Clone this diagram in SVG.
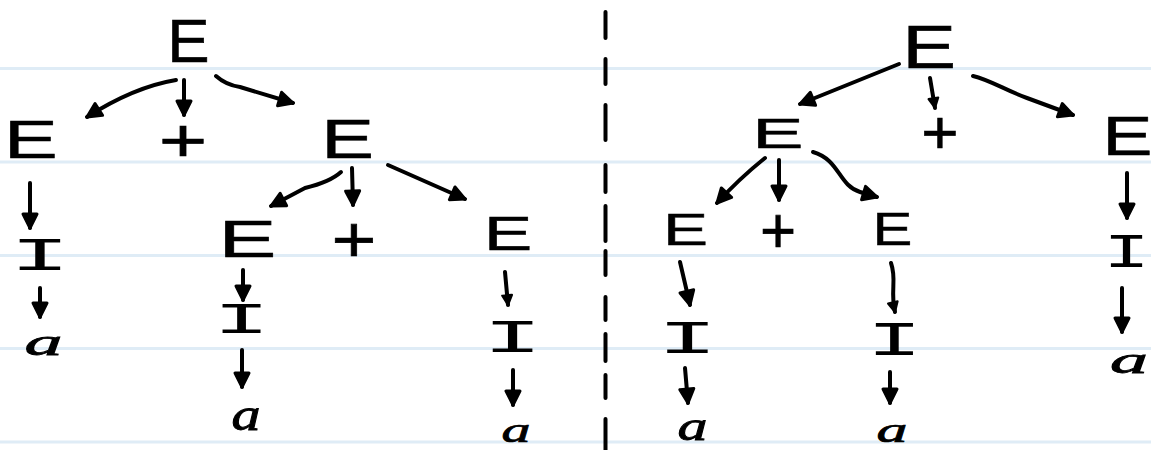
<svg xmlns="http://www.w3.org/2000/svg" width="1151" height="450" viewBox="0 0 1151 450">
<defs>
<style>
.rule{stroke:#dfecf6;stroke-width:3}
.dash{stroke:#000;stroke-width:4;stroke-linecap:round}
.c{fill:none;stroke:#000;stroke-width:4;stroke-linecap:round;stroke-linejoin:round;marker-end:url(#ah)}
.c.s{marker-end:url(#as)}
.t{fill:#000;text-anchor:middle}
.E,.P{font-family:"Liberation Sans",Arial,sans-serif;font-size:52px;stroke:#000;stroke-width:0.5}
.I{font-family:"Liberation Mono","Courier New",monospace;font-size:42px}
.A{font-family:"Liberation Serif","Times New Roman",serif;font-style:italic;font-size:40px;stroke:#000;stroke-width:0.8}
</style>
<marker id="ah" viewBox="0 0 20 20" refX="17" refY="10" markerWidth="20" markerHeight="20" markerUnits="userSpaceOnUse" orient="auto">
<path d="M3,3 L17,10 L3,17 z" fill="#000" stroke="#000" stroke-width="3" stroke-linejoin="round"/>
</marker>
<marker id="as" viewBox="0 0 20 20" refX="17" refY="10" markerWidth="14" markerHeight="14" markerUnits="userSpaceOnUse" orient="auto">
<path d="M3,3 L17,10 L3,17 z" fill="#000" stroke="#000" stroke-width="3" stroke-linejoin="round"/>
</marker>
</defs>
<rect width="1151" height="450" fill="#fff"/>
<g id="rules">
<line class="rule" x1="0" y1="68.5" x2="1151" y2="68.5"/>
<line class="rule" x1="0" y1="162" x2="1151" y2="162"/>
<line class="rule" x1="0" y1="255.5" x2="1151" y2="255.5"/>
<line class="rule" x1="0" y1="348.5" x2="1151" y2="348.5"/>
<line class="rule" x1="0" y1="442" x2="1151" y2="442"/>
</g>
<g id="divider">
<line class="dash" x1="605.5" y1="12" x2="605.5" y2="38"/>
<line class="dash" x1="605.5" y1="59" x2="605.5" y2="84"/>
<line class="dash" x1="605.5" y1="105" x2="605.5" y2="140"/>
<line class="dash" x1="605.5" y1="165" x2="605.5" y2="192"/>
<line class="dash" x1="605.5" y1="206" x2="605.5" y2="241"/>
<line class="dash" x1="605.5" y1="251" x2="605.5" y2="275"/>
<line class="dash" x1="605.5" y1="297" x2="605.5" y2="320"/>
<line class="dash" x1="605.5" y1="334" x2="605.5" y2="361"/>
<line class="dash" x1="605.5" y1="375" x2="605.5" y2="398"/>
<line class="dash" x1="605.5" y1="419" x2="605.5" y2="452"/>
</g>
<g id="connectors">
<path class="c" d="M176,80 Q134,87 87,117"/>
<path class="c" d="M184,80 L184,115"/>
<path class="c" d="M216,76 Q226,85 240,87 L293,103"/>
<path class="c" d="M30,183 L30,228"/>
<path class="c" d="M40,288 L40,317"/>
<path class="c" d="M341,172 Q330,182 305,188 L271,206"/>
<path class="c" d="M352,168 L353,205"/>
<path class="c" d="M388,165 L465,199"/>
<path class="c" d="M243,270 L243,300"/>
<path class="c" d="M242,350 L242,387"/>
<path class="c s" d="M505,272 L508,305"/>
<path class="c" d="M513,370 L513,405"/>
<path class="c" d="M899,64 L800,104"/>
<path class="c s" d="M930,78 L935,108"/>
<path class="c" d="M973,76 C990,80 1005,90 1027,98 L1073,115"/>
<path class="c" d="M1127,173 L1127,218"/>
<path class="c" d="M1122,288 L1122,332"/>
<path class="c" d="M765,158 Q740,178 717,203"/>
<path class="c" d="M779,160 L779,200"/>
<path class="c" d="M813,152 C840,160 838,185 860,192 L877,197"/>
<path class="c" d="M680,262 L690,305"/>
<path class="c" d="M685,368 L688,403"/>
<path class="c s" d="M891,263 C897,280 890,290 895,312"/>
<path class="c" d="M890,372 L890,403"/>
</g>
<g id="left-tree">
<g id="L-E-root" transform="translate(188.5,62) scale(1.22,1.18)"><text class="t E">E</text></g>
<g id="L-E-1" transform="translate(31,158) scale(1.55,1.02)"><text class="t E">E</text></g>
<g id="L-plus-1" transform="translate(183,161) scale(1.6,1.19)"><text class="t P">+</text></g>
<g id="L-E-2" transform="translate(347.5,158) scale(1.52,1.08)"><text class="t E">E</text></g>
<g id="L-I-1" transform="translate(40,270) scale(2.4,1.1)"><text class="t I">I</text></g>
<g id="L-a-1" transform="translate(43.5,355) scale(1.9,0.97)"><text class="t A">a</text></g>
<g id="L-E-3" transform="translate(247.5,257) scale(1.67,1.0)"><text class="t E">E</text></g>
<g id="L-plus-2" transform="translate(354,261.5) scale(1.48,1.23)"><text class="t P">+</text></g>
<g id="L-E-4" transform="translate(508,250) scale(1.4,0.94)"><text class="t E">E</text></g>
<g id="L-I-2" transform="translate(241.5,333) scale(2.25,1.05)"><text class="t I">I</text></g>
<g id="L-a-2" transform="translate(246,430) scale(1.45,1.15)"><text class="t A">a</text></g>
<g id="L-I-3" transform="translate(512.5,352) scale(2.35,1.1)"><text class="t I">I</text></g>
<g id="L-a-3" transform="translate(516,442) scale(1.45,0.92)"><text class="t A">a</text></g>
</g>
<g id="right-tree">
<g id="R-E-root" transform="translate(929,68) scale(1.55,1.16)"><text class="t E">E</text></g>
<g id="R-E-1" transform="translate(778,148) scale(1.48,0.83)"><text class="t E">E</text></g>
<g id="R-plus-1" transform="translate(940,153) scale(1.23,1.19)"><text class="t P">+</text></g>
<g id="R-E-2" transform="translate(1127.5,155) scale(1.44,1.08)"><text class="t E">E</text></g>
<g id="R-I-1" transform="translate(1126.5,267) scale(1.85,1.15)"><text class="t I">I</text></g>
<g id="R-a-1" transform="translate(1129,373) scale(1.9,0.95)"><text class="t A">a</text></g>
<g id="R-E-3" transform="translate(685.5,245) scale(1.3,0.86)"><text class="t E">E</text></g>
<g id="R-plus-2" transform="translate(778,252.5) scale(1.19,1.23)"><text class="t P">+</text></g>
<g id="R-E-4" transform="translate(892.5,245) scale(1.15,0.89)"><text class="t E">E</text></g>
<g id="R-I-2" transform="translate(687.5,353) scale(2.4,1.12)"><text class="t I">I</text></g>
<g id="R-a-2" transform="translate(692.5,440) scale(1.5,1.05)"><text class="t A">a</text></g>
<g id="R-I-3" transform="translate(894.5,355) scale(2.2,1.15)"><text class="t I">I</text></g>
<g id="R-a-3" transform="translate(892,442) scale(1.55,0.92)"><text class="t A">a</text></g>
</g>
</svg>
